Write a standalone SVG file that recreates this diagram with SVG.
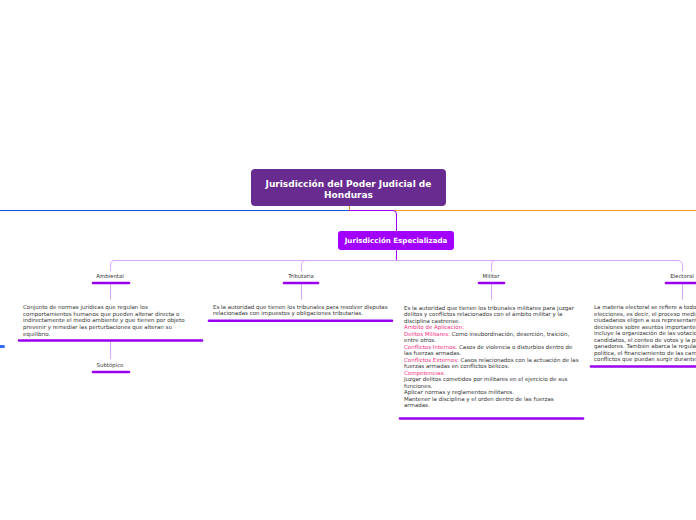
<svg xmlns="http://www.w3.org/2000/svg" width="696" height="520" viewBox="0 0 696 520">
<style>
.root{fill:#682c91}
.spec{fill:#a100ff}
.rt{font-family:"DejaVu Sans",Verdana,sans-serif;font-weight:bold;fill:#fff;text-anchor:middle}
.lbl{font-family:"DejaVu Sans",Verdana,sans-serif;font-size:5.4px;fill:#333;text-anchor:middle}
.txt{font-family:"DejaVu Sans",Verdana,sans-serif;font-size:5.5px;fill:#333}
.pk{fill:#f5317f}
.bar{stroke:#9a00f0;stroke-width:2.6;stroke-linecap:round;fill:none}
.lc{stroke:#d9a8fa;stroke-width:1;fill:none}
</style>
<rect width="696" height="520" fill="#fff"/>
<g id="connectors">
<path d="M349.5,206 V210.5 H0" stroke="#1a4fe0" stroke-width="1" fill="none"/>
<path d="M349.5,206 V210.5 H696" stroke="#f7961e" stroke-width="1" fill="none"/>
<path d="M349.5,210.5 H393 Q396.5,210.5 396.5,214 V231" stroke="#a100ff" stroke-width="1" fill="none"/>
<path d="M396.5,250 V260" stroke="#a100ff" stroke-width="1" fill="none"/>
<path class="lc" d="M110.5,271 V265 Q110.5,260.5 115,260.5 H677 Q682.5,260.5 682.5,265 V271"/>
<path class="lc" d="M301.5,271 V265 Q301.5,260.5 306,260.5"/>
<path class="lc" d="M491.5,271 V265 Q491.5,260.5 496,260.5"/>
<path class="lc" d="M110.5,284 V300"/>
<path class="lc" d="M301.5,284 V300"/>
<path class="lc" d="M491.5,284 V300"/>
<path class="lc" d="M682.5,284 V300"/>
<path class="lc" d="M110.5,341 V359"/>
</g>
<g id="root">
<rect class="root" x="251" y="169" width="195" height="37" rx="4"/>
<text class="rt" font-size="9"><tspan x="348.5" y="186.5">Jurisdicción del Poder Judicial de</tspan><tspan x="348.5" y="197.5">Honduras</tspan></text>
</g>
<g id="especializada">
<rect class="spec" x="338" y="231" width="116" height="19" rx="3"/>
<text class="rt" font-size="7.1" x="396" y="243">Jurisdicción Especializada</text>
</g>
<g id="offscreen">
<rect x="-6" y="345" width="11" height="3" rx="1.5" fill="#2f6df5"/>
</g>
<g id="ambiental">
<text class="lbl" x="110" y="278">Ambiental</text>
<path class="bar" d="M93,283 H129"/>
</g>
<g id="ambiental-desc">
<text class="txt"><tspan x="23" y="309">Conjunto de normas jurídicas que regulan los</tspan><tspan x="23" y="315.7">comportamientos humanos que pueden alterar directa o</tspan><tspan x="23" y="322.4">indirectamente el medio ambiente y que tienen por objeto</tspan><tspan x="23" y="329.1">prevenir y remediar las perturbaciones que alteran su</tspan><tspan x="23" y="335.8">equilibrio.</tspan></text>
<path class="bar" d="M19,340.5 H202"/>
</g>
<g id="subtopico">
<text class="lbl" x="110" y="367">Subtópico</text>
<path class="bar" d="M93,372 H129"/>
</g>
<g id="tributaria">
<text class="lbl" x="301" y="278">Tributaria</text>
<path class="bar" d="M284,283 H318"/>
</g>
<g id="tributaria-desc">
<text class="txt"><tspan x="213" y="308.5">Es la autoridad que tienen los tribunales para resolver disputas</tspan><tspan x="213" y="315.2">relacionadas con impuestos y obligaciones tributarias.</tspan></text>
<path class="bar" d="M209,320.7 H392"/>
</g>
<g id="militar">
<text class="lbl" x="491" y="278">Militar</text>
<path class="bar" d="M479,283 H504"/>
</g>
<g id="militar-desc">
<text class="txt"><tspan x="404" y="309.5">Es la autoridad que tienen los tribunales militares para juzgar</tspan><tspan x="404" y="316">delitos y conflictos relacionados con el ámbito militar y la</tspan><tspan x="404" y="322.5">disciplina castrense.</tspan><tspan x="404" y="329" class="pk">Ámbito de Aplicación:</tspan><tspan x="404" y="335.5"><tspan class="pk">Delitos Militares:</tspan> Como insubordinación, deserción, traición,</tspan><tspan x="404" y="342">entre otros.</tspan><tspan x="404" y="348.5"><tspan class="pk">Conflictos Internos:</tspan> Casos de violencia o disturbios dentro de</tspan><tspan x="404" y="355">las fuerzas armadas.</tspan><tspan x="404" y="361.5"><tspan class="pk">Conflictos Externos:</tspan> Casos relacionados con la actuación de las</tspan><tspan x="404" y="368">fuerzas armadas en conflictos bélicos.</tspan><tspan x="404" y="374.5" class="pk">Competencias:</tspan><tspan x="404" y="381">Juzgar delitos cometidos por militares en el ejercicio de sus</tspan><tspan x="404" y="387.5">funciones.</tspan><tspan x="404" y="394">Aplicar normas y reglamentos militares.</tspan><tspan x="404" y="400.5">Mantener la disciplina y el orden dentro de las fuerzas</tspan><tspan x="404" y="407">armadas.</tspan></text>
<path class="bar" d="M400,418.5 H583"/>
</g>
<g id="electoral">
<text class="lbl" x="682" y="278">Electoral</text>
<path class="bar" d="M666,283 H700"/>
</g>
<g id="electoral-desc">
<text class="txt"><tspan x="594" y="309">La materia electoral se refiere a todo lo relacionado con las</tspan><tspan x="594" y="315.5">elecciones, es decir, el proceso mediante el cual los</tspan><tspan x="594" y="322">ciudadanos eligen a sus representantes o toman</tspan><tspan x="594" y="328.5">decisiones sobre asuntos importantes. Esto</tspan><tspan x="594" y="335">incluye la organización de las votaciones, el registro de</tspan><tspan x="594" y="341.5">candidatos, el conteo de votos y la proclamación de los</tspan><tspan x="594" y="348">ganadores. También abarca la regulación de la propaganda</tspan><tspan x="594" y="354.5">política, el financiamiento de las campañas y la resolución de</tspan><tspan x="594" y="361">conflictos que puedan surgir durante el proceso electoral.</tspan></text>
<path class="bar" d="M591,366.5 H700"/>
</g>
</svg>
